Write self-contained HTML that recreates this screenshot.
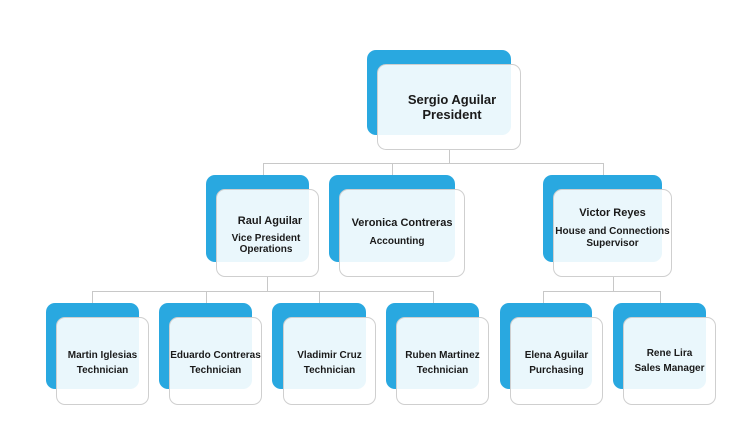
<!DOCTYPE html>
<html><head><style>
body{margin:0;width:738px;height:430px;background:#fff;position:relative;overflow:hidden;font-family:"Liberation Sans",sans-serif}
.b{position:absolute;background:#29a8e0;border-radius:9px}
.f{position:absolute;background:rgba(255,255,255,0.9);border:1px solid #cfcfcf;border-radius:9px;box-sizing:border-box}
.t{position:absolute;text-align:center;font-weight:bold;color:#1a1a1a;font-size:10px;line-height:13px;white-space:nowrap}
.l{position:absolute;background:#c8c8c8}
</style></head><body>
<!-- connectors -->
<div class="l" style="left:449px;top:150px;width:1px;height:13px"></div>
<div class="l" style="left:263px;top:163px;width:341px;height:1px"></div>
<div class="l" style="left:263px;top:163px;width:1px;height:12px"></div>
<div class="l" style="left:392px;top:163px;width:1px;height:12px"></div>
<div class="l" style="left:603px;top:163px;width:1px;height:12px"></div>
<div class="l" style="left:267px;top:277px;width:1px;height:14px"></div>
<div class="l" style="left:92px;top:291px;width:342px;height:1px"></div>
<div class="l" style="left:92px;top:291px;width:1px;height:12px"></div>
<div class="l" style="left:206px;top:291px;width:1px;height:12px"></div>
<div class="l" style="left:319px;top:291px;width:1px;height:12px"></div>
<div class="l" style="left:433px;top:291px;width:1px;height:12px"></div>
<div class="l" style="left:613px;top:277px;width:1px;height:14px"></div>
<div class="l" style="left:543px;top:291px;width:118px;height:1px"></div>
<div class="l" style="left:543px;top:291px;width:1px;height:12px"></div>
<div class="l" style="left:660px;top:291px;width:1px;height:12px"></div>

<div class="b" style="left:367px;top:50px;width:144px;height:85px"></div>
<div class="f" style="left:377px;top:64px;width:144px;height:86px"></div>
<div class="t" style="left:377px;top:92px;width:150px;font-size:13px;line-height:15px">Sergio Aguilar<br>President</div>

<div class="b" style="left:206px;top:175px;width:103px;height:87px"></div>
<div class="f" style="left:216px;top:189px;width:103px;height:88px"></div>
<div class="t" style="left:216px;top:215px;width:108px;font-size:11px">Raul Aguilar</div>
<div class="t" style="left:216px;top:233px;width:100px;line-height:11px">Vice President<br>Operations</div>

<div class="b" style="left:329px;top:175px;width:126px;height:87px"></div>
<div class="f" style="left:339px;top:189px;width:126px;height:88px"></div>
<div class="t" style="left:339px;top:217px;width:126px;font-size:11px">Veronica Contreras</div>
<div class="t" style="left:339px;top:235px;width:116px">Accounting</div>

<div class="b" style="left:543px;top:175px;width:119px;height:87px"></div>
<div class="f" style="left:553px;top:189px;width:119px;height:88px"></div>
<div class="t" style="left:553px;top:207px;width:119px;font-size:11px">Victor Reyes</div>
<div class="t" style="left:553px;top:226px;width:119px;line-height:12px">House and Connections<br>Supervisor</div>

<div class="b" style="left:46px;top:303px;width:93px;height:86px"></div>
<div class="f" style="left:56px;top:317px;width:93px;height:88px"></div>
<div class="t" style="left:56px;top:348px;width:93px;line-height:15px">Martin Iglesias<br>Technician</div>

<div class="b" style="left:159px;top:303px;width:93px;height:86px"></div>
<div class="f" style="left:169px;top:317px;width:93px;height:88px"></div>
<div class="t" style="left:166px;top:348px;width:99px;line-height:15px">Eduardo Contreras<br>Technician</div>

<div class="b" style="left:272px;top:303px;width:94px;height:86px"></div>
<div class="f" style="left:283px;top:317px;width:93px;height:88px"></div>
<div class="t" style="left:283px;top:348px;width:93px;line-height:15px">Vladimir Cruz<br>Technician</div>

<div class="b" style="left:386px;top:303px;width:93px;height:86px"></div>
<div class="f" style="left:396px;top:317px;width:93px;height:88px"></div>
<div class="t" style="left:396px;top:348px;width:93px;line-height:15px">Ruben Martinez<br>Technician</div>

<div class="b" style="left:500px;top:303px;width:92px;height:86px"></div>
<div class="f" style="left:510px;top:317px;width:93px;height:88px"></div>
<div class="t" style="left:510px;top:348px;width:93px;line-height:15px">Elena Aguilar<br>Purchasing</div>

<div class="b" style="left:613px;top:303px;width:93px;height:86px"></div>
<div class="f" style="left:623px;top:317px;width:93px;height:88px"></div>
<div class="t" style="left:623px;top:346px;width:93px;line-height:15px">Rene Lira<br>Sales Manager</div>
</body></html>
